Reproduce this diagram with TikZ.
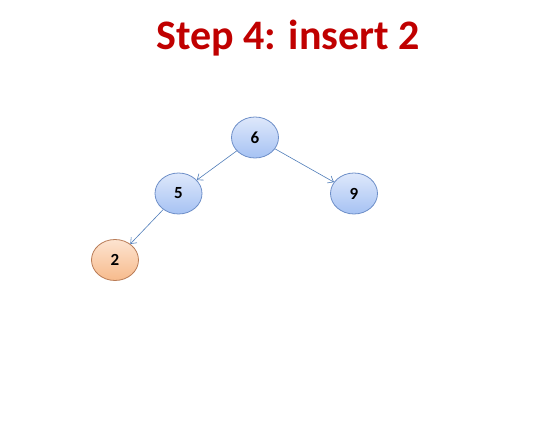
\documentclass[tikz,border=0pt]{standalone}
\usepackage{fontspec}
\setmainfont{Carlito}
\usepackage{xcolor}
\usepackage{tikz}
\usetikzlibrary{arrows.meta,shapes.geometric}
\definecolor{titlered}{HTML}{C00000}
\definecolor{bluetop}{HTML}{DEE8FB}
\definecolor{bluebot}{HTML}{A6C2F3}
\definecolor{blueline}{HTML}{6E8FC8}
\definecolor{orgtop}{HTML}{FDE4D0}
\definecolor{orgbot}{HTML}{F7BA8C}
\definecolor{orgline}{HTML}{B97C57}
\definecolor{edgec}{HTML}{4F7CB8}
\tikzset{
  key/.style={ellipse, draw=blueline, line width=0.8pt, top color=bluetop, bottom color=bluebot,
    minimum width=47pt, minimum height=41pt, inner sep=0pt, font=\fontsize{17}{17}\selectfont\bfseries},
  newkey/.style={key, draw=orgline, top color=orgtop, bottom color=orgbot},
  link/.style={draw=edgec, line width=0.6pt, -{Straight Barb[length=5pt,width=8pt]}},
  ttl/.style={text=titlered, font=\fontsize{42}{42}\selectfont\bfseries},
}
\begin{document}
\begin{tikzpicture}[x=1pt,y=-1pt]
  \useasboundingbox (0,0) rectangle (549,425);
  \node[ttl] (title) at (288,38) {Step 4: insert 2};
  \node[key] (k6) at (255,137.5) {6};
  \node[key] (k5) at (178.5,193.5) {5};
  \node[key] (k9) at (354,193.5) {9};
  \node[newkey] (k2) at (115,260) {2};
  \draw[link] (k6) -- (k5);
  \draw[link] (k6) -- (k9);
  \draw[link] (k5) -- (k2);
\end{tikzpicture}
\end{document}
